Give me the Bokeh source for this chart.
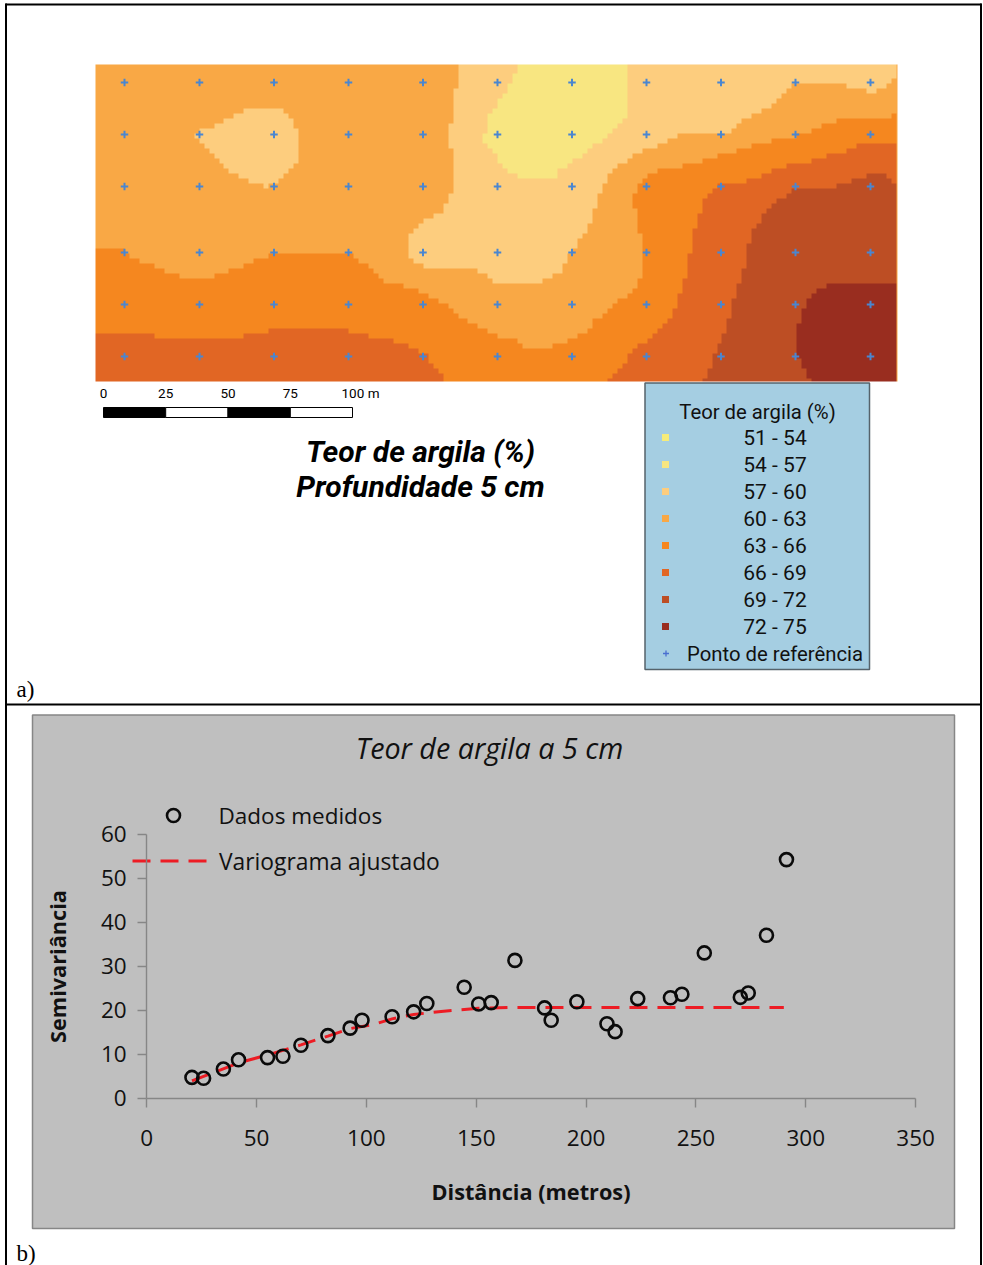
import numpy as np
from bokeh.embed import file_html
from bokeh.resources import INLINE
from bokeh.plotting import figure
from bokeh.models import Range1d, LinearAxis, FixedTicker, LinearColorMapper
from bokeh.core.properties import value

# ---------- data: map (metres, origin at the lower-left corner of the map) ----------
class_labels = ["51 - 54", "54 - 57", "57 - 60", "60 - 63", "63 - 66", "66 - 69", "69 - 72", "72 - 75"]
class_colors = ["#F6EC7A", "#F8E681", "#FDCD7E", "#F9A845", "#F5871F", "#E16624", "#BD4E24", "#992D1F"]

ref_x = [11.6, 41.6, 71.4, 101.2, 131, 160.8, 190.6, 220.4, 250.2, 280, 310]
ref_y = [119.6, 98.8, 78, 51.6, 30.8, 10]

zone_57_60 = [(145.2,126.8),(145.2,117.2),(143.2,117.2),(143.2,103.2),(141.2,103.2),(141.2,93.6),(143.2,93.6),(143.2,75.6),(141.2,75.6),(141.2,71.6),(139.2,71.6),(139.2,67.6),(137.2,67.6),(133.2,65.6),(131.2,63.6),(127.2,61.6),(125.2,57.6),(125.2,50),(127.2,47.6),(131.2,46),(147.2,46),(153.2,43.6),(159.2,41.6),(159.2,40),(178.8,40),(182.8,41.6),(186.8,44),(188.8,49.6),(194.8,57.6),(196.8,61.6),(198.8,65.6),(200.8,73.6),(202.8,77.6),(204.8,81.6),(206.8,83.6),(208.8,85.6),(210.8,87.6),(214.8,89.6),(216.8,91.6),(222.8,93.6),(226.8,95.6),(230.8,97.2),(236.8,99.2),(252.8,99.2),(254.8,101.2),(256.8,103.2),(260.8,105.2),(264.8,107.2),(268.8,109.2),(274,113.2),(276,115.2),(280.8,119.2),(294,119.2),(306,117.2),(310,115.2),(316,117.2),(318,119.2),(320.8,121.2),(320.8,126.8)]
zone_54_57 = [(169.2,126.8),(212,126.8),(212,105.2),(210.8,103.2),(208.8,101.2),(204.8,97.2),(200.8,95.2),(196.8,91.2),(190.8,87.6),(188.8,85.6),(184.8,83.6),(184.8,81.6),(169.2,81.6),(165.2,83.6),(163.2,85.6),(161.2,87.6),(159.2,91.6),(157.2,93.6),(155.2,97.2),(157.2,101.2),(157.2,107.2),(159.2,107.2),(161.2,113.2),(163.2,115.2),(165.2,117.2),(167.2,121.2),(169.2,124.8)]
island_57_60 = [(61.6,109.2),(73.6,109.2),(75.6,107.2),(77.6,105.2),(79.6,103.2),(81.6,99.2),(81.6,87.6),(79.6,85.6),(77.6,83.6),(75.6,81.6),(71.6,79.6),(67.6,77.6),(67.6,79.6),(61.6,79.6),(57.6,81.6),(53.6,83.6),(51.6,85.6),(49.6,87.6),(47.6,89.6),(45.6,91.6),(43.6,93.6),(41.6,95.6),(38.6,97.6),(44,101.2),(49.6,103.2),(53.6,105.2),(57.6,107.2)]
zone_63_66 = [(0,54),(8,54),(12,52),(14,50),(18,48),(24,46),(28,44),(34,42),(48,42),(53.6,44),(59.6,46),(63.6,48),(69.6,50),(69.6,52),(101.2,52),(103.2,50),(105.2,48),(109.2,46),(111.2,44),(115.2,40),(123.2,38),(129.2,36),(135.2,33.6),(141.2,29.6),(143.2,27.6),(145.2,25.6),(149.2,23.6),(153.2,21.6),(157.2,19.6),(161.2,17.6),(171.2,15.6),(171.2,13.6),(180.8,13.6),(188.8,15.6),(192.8,17.6),(196.8,19.6),(198.8,23.6),(202.8,25.6),(206.8,29.6),(210.8,33.6),(214.8,35.6),(216.8,39.6),(218.8,43.6),(218.8,59.6),(216.8,59.6),(216.8,69.6),(214.8,69.6),(214.8,73.6),(216.8,75.6),(218.8,81.6),(222.8,83.6),(232.8,85.6),(240.8,87.6),(246.8,89.6),(254.8,91.6),(260.8,93.6),(268.4,95.6),(276.8,97.2),(284.4,99.2),(288.4,101.2),(292.4,103.2),(300.4,105.2),(316,105.2),(320.8,107.2),(320.8,0),(0,0)]
zone_66_69_w = [(0,19.6),(24,19.6),(24,17.6),(59.6,17.6),(59.6,19.6),(69.6,19.6),(69.6,21.6),(101.2,21.6),(101.2,19.6),(109.2,19.6),(109.2,17.6),(115.2,17.6),(121.2,15.6),(125.2,13.6),(129.2,11.6),(133.2,9.6),(135.2,5.6),(137.2,3.6),(139.2,1.6),(139.2,0),(0,0)]
zone_66_69_e = [(204.8,0),(206.8,2),(208.8,4),(210.8,6),(212.8,10),(214.8,12),(216.8,14),(220.8,15.6),(222.8,17.6),(224.8,19.6),(226.8,21.6),(228.8,23.6),(230.8,25.6),(230.8,29.6),(232.8,29.6),(232.8,35.6),(234.8,35.6),(234.8,41.6),(236.8,41.6),(236.8,51.6),(238.8,51.6),(238.8,61.6),(240.8,61.6),(240.8,67.6),(242.8,67.6),(242.8,71.6),(244.8,73.6),(246.8,75.6),(250.8,79.6),(258.8,79.6),(264.8,81.6),(268.4,83.6),(274.4,85.6),(284.4,87.6),(290.4,89.6),(298.4,91.6),(304.4,93.6),(304.4,95.6),(320.8,95.6),(320.8,0)]
zone_69_72 = [(242.8,0),(244.8,2),(246.8,8.4),(248.8,13.6),(250.8,17.6),(252.8,23.6),(254.8,29.6),(256.8,37.6),(258.8,43.6),(260.8,49.6),(260.8,53.6),(262.8,59.6),(264.8,61.6),(266.8,65.6),(268.8,67.6),(270.8,69.6),(272.8,71.6),(274.8,73.6),(278.8,75.6),(280.8,77.6),(294.8,77.6),(300.8,79.6),(306.4,81.6),(312.4,83.6),(316.4,81.6),(318.4,79.6),(320.8,77.6),(320.8,0)]
zone_72_75 = [(286.8,0),(284.8,2),(282.8,6.4),(280.8,10.4),(280.8,19.6),(282.8,27.6),(284.8,31.6),(286.8,33.6),(288.8,35.6),(290.8,37.6),(296.8,39.6),(316.4,39.6),(320.8,37.6),(320.8,0)]

# ---------- data: semivariogram ----------
dist = [20.6, 25.9, 34.9, 41.8, 55, 62, 70.2, 82.5, 92.6, 98, 111.7, 121.5, 127.5, 144.5, 151.1, 156.8, 167.6,
        181.1, 184.1, 195.8, 209.5, 213.2, 223.5, 238.4, 243.6, 253.8, 270.2, 273.8, 282.1, 291.2]
semi = [4.7, 4.5, 6.6, 8.7, 9.2, 9.5, 12, 14.2, 15.9, 17.7, 18.5, 19.6, 21.5, 25.2, 21.4, 21.7, 31.3,
        20.5, 17.7, 21.9, 16.9, 15.1, 22.6, 22.8, 23.6, 33, 22.9, 23.9, 37, 54.2]
fit_x = [20.6, 41.8, 55, 70.2, 82.5, 92.6, 103, 111.7, 121.5, 134, 151, 165, 290]
fit_y = [3.9, 8.0, 9.8, 12.1, 14.1, 15.8, 16.7, 18, 19, 19.7, 20.4, 20.6, 20.6]
x_ticks = [0, 50, 100, 150, 200, 250, 300, 350]
y_ticks = [0, 10, 20, 30, 40, 50, 60]

W, H = 983, 1265
# pixel anchors of the three coordinate systems
CX0, CXS = 146.2, 2.197   # chart: x=0, px per metre
CY0, CYS = 1097.6, 4.4    # chart: y=0, px per unit
MX0, MY0, MS = 95.0, 381.0, 2.5  # map origin, px per metre

p = figure(width=W, height=H, toolbar_location=None, output_backend="svg",
           x_range=Range1d((0 - CX0) / CXS, (W - CX0) / CXS),
           y_range=Range1d((CY0 - H) / CYS, CY0 / CYS),
           x_axis_type=None, y_axis_type=None, min_border=0, outline_line_color=None,
           background_fill_color="white", border_fill_color="white",
           styles={"position": "absolute", "left": "0px", "top": "0px"})
p.grid.visible = False
p.extra_x_ranges = {"page": Range1d(0, W), "map": Range1d((0 - MX0) / MS, (W - MX0) / MS)}
p.extra_y_ranges = {"page": Range1d(H, 0), "map": Range1d((MY0 - H) / MS, MY0 / MS)}
pg = dict(x_range_name="page", y_range_name="page")
mp = dict(x_range_name="map", y_range_name="map")

def ptext(x, y, s, font, size, style="normal", align="center", color="#000000"):
    p.text(x=[x], y=[y - 1], text=[s], text_font=value(font), text_font_size=f"{size}px",
           text_font_style=style, text_align=align, text_baseline="middle", text_color=color, **pg)

# ---------- page frame ----------
for xs, ys in [([5.5, 5.5], [3, H]), ([980.5, 980.5], [3, H]), ([5, 981], [4, 4]), ([5, 981], [704, 704])]:
    p.line(xs, ys, line_color="#000000", line_width=2, **pg)
ptext(16, 690, "a)", "Liberation Serif", 23, align="left")
ptext(16, 1254, "b)", "Liberation Serif", 23, align="left")

# ---------- map ----------
MAP_W, MAP_H = 320.8, 126.8
CELL_X, CELL_Y = 4.98, 5.0   # px of one raster cell of the original map
col_edge0, row_edge0 = 94.0, 383.3   # px of the first cell edges
NC, NR = 163, 65
gx, gy = np.meshgrid((col_edge0 + (np.arange(NC) + 0.5) * CELL_X - MX0) / MS,
                     (MY0 - (row_edge0 - (np.arange(NR) + 0.5) * CELL_Y)) / MS)

def inside(poly):
    a = np.array(poly)
    x1, y1 = a[:, 0], a[:, 1]
    x2, y2 = np.roll(x1, -1), np.roll(y1, -1)
    res = np.zeros(gx.shape, dtype=bool)
    for xa, ya, xb, yb in zip(x1, y1, x2, y2):
        if ya == yb:
            continue
        cond = ((ya > gy) != (yb > gy)) & (gx < (xb - xa) * (gy - ya) / (yb - ya) + xa)
        res ^= cond
    return res

grid = np.full(gx.shape, 3.0)
for idx, poly in [(4, zone_63_66), (2, zone_57_60), (1, zone_54_57), (2, island_57_60),
                  (5, zone_66_69_w), (5, zone_66_69_e), (6, zone_69_72), (7, zone_72_75)]:
    grid[inside(poly)] = idx
# one image pixel per screen pixel so that the stair-steps stay crisp
px_cols = np.floor((MX0 + np.arange(802) + 0.5 - col_edge0) / CELL_X).astype(int)
px_rows = np.floor((row_edge0 - (MY0 - np.arange(317) - 0.5)) / CELL_Y).astype(int)
big = grid[np.ix_(px_rows, px_cols)]
mapper = LinearColorMapper(palette=class_colors, low=-0.5, high=7.5)
p.image(image=[big], x=0, y=0, dw=MAP_W, dh=MAP_H, color_mapper=mapper, **mp)

rx, ry = np.meshgrid(ref_x, ref_y)
p.scatter(rx.ravel(), ry.ravel(), marker="cross", size=7.5, line_color="#4A86D0", line_width=2, **mp)

# scale bar
sb_edges = [103, 165.2, 227.5, 289.8, 352]
sb_labels = ["0", "25", "50", "75", "100 m"]
p.quad(left=sb_edges[:-1], right=sb_edges[1:], top=[407] * 4, bottom=[417] * 4,
       fill_color=["#000000", "#ffffff", "#000000", "#ffffff"], line_color="#000000", line_width=1, **pg)
for i, (e, s) in enumerate(zip(sb_edges, sb_labels)):
    ptext(e + (8 if i == 4 else 0), 393.5, s, "Roboto", 13.5)

ptext(420, 452, "Teor de argila (%)", "Roboto", 30, style="bold italic")
ptext(420, 487, "Profundidade 5 cm", "Roboto", 30, style="bold italic")

# map legend
p.quad(left=[644.5], right=[869], top=[382.5], bottom=[669], fill_color="#A5CEE2", line_color="#56636B", line_width=1.5, **pg)
ptext(757, 412.5, "Teor de argila (%)", "Roboto", 20.3, color="#111111")
for i, (lab, col) in enumerate(zip(class_labels, class_colors)):
    yy = 437.5 + 27 * i
    p.scatter([665], [yy - 0.5], marker="square", size=7, fill_color=col, line_color=None, **pg)
    ptext(774.5, yy + 0.5, lab, "Roboto", 21, color="#111111")
p.scatter([665.5], [653], marker="cross", size=6, line_color="#4A6FD0", line_width=1.3, **pg)
ptext(774.5, 654, "Ponto de referência", "Roboto", 20.3, color="#111111")

# ---------- chart panel ----------
p.quad(left=[32], right=[954], top=[714.5], bottom=[1228], fill_color="#BFBFBF", line_color="#868686", line_width=1.5, **pg)
ptext(489, 748, "Teor de argila a 5 cm", "Open Sans", 28.7, style="italic", color="#111111")

p.line(fit_x, fit_y, line_color="#ED1C24", line_width=3, line_dash="18 10")
p.scatter(dist, semi, marker="circle", size=13, fill_color=None, line_color="#0A0A0A", line_width=2.6)

p.scatter([173], [815], marker="circle", size=13, fill_color=None, line_color="#0A0A0A", line_width=2.6, **pg)
ptext(218, 815.5, "Dados medidos", "Open Sans", 22.5, align="left", color="#111111")
p.line([132, 206], [860.5, 860.5], line_color="#ED1C24", line_width=3, line_dash="18 10", **pg)
ptext(218.5, 861.5, "Variograma ajustado", "Open Sans", 22.8, align="left", color="#111111")

axis_style = dict(axis_line_color="#868686", axis_line_width=1.4, major_tick_line_color="#868686",
                  major_tick_line_width=1.4, major_tick_out=9, major_tick_in=0, minor_tick_out=0, minor_tick_in=0,
                  major_label_text_font="Open Sans", major_label_text_font_size="22.5px", major_label_text_color="#111111",
                  axis_label_text_font="Open Sans", axis_label_text_font_size="21.7px",
                  axis_label_text_font_style="bold", axis_label_text_color="#111111")
xa = LinearAxis(ticker=FixedTicker(ticks=x_ticks), fixed_location=0, bounds=(0, 350), axis_label="Distância (metros)",
                major_label_standoff=23, axis_label_standoff=27, **axis_style)
ya = LinearAxis(ticker=FixedTicker(ticks=y_ticks), fixed_location=0, bounds=(0, 60), axis_label="Semivariância",
                major_label_standoff=11, axis_label_standoff=26, **axis_style)
p.add_layout(xa, "below")
p.add_layout(ya, "left")

open("out.html", "w").write(file_html(p, INLINE))
